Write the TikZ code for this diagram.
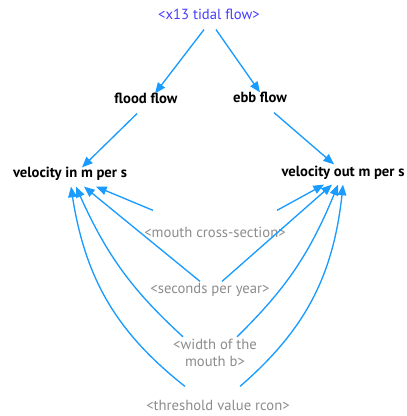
\documentclass[tikz,border=0pt]{standalone}
\usepackage{fontspec}
\setmainfont{PT Sans}
\usetikzlibrary{arrows.meta, bending}
\definecolor{linkblue}{RGB}{25,155,255}
\definecolor{shadowblue}{RGB}{70,60,255}
\definecolor{shadowgray}{RGB}{140,140,140}

\begin{document}
\begin{tikzpicture}[x=0.75pt, y=-0.75pt, font=\fontsize{11}{13}\selectfont,
    var/.style={inner sep=0pt, text height=8.5pt, text depth=2.5pt, font=\fontsize{11}{13}\selectfont\bfseries},
    shadow/.style={inner sep=0pt, text height=8.5pt, text depth=2.5pt, text=shadowgray},
    link/.style={draw=linkblue, line width=1pt, -{Triangle[length=8pt,width=6.5pt]}}]

    \useasboundingbox (0,0) rectangle (406,416);

    % the stocks of the model (variables)
    \node[shadow, text=shadowblue] (tidal) at (209,16) {<x13 tidal flow>};
    \node[var] (flood) at (146,100) {flood flow};
    \node[var] (ebb) at (260,99) {ebb flow};
    \node[var] (vin) at (70,174) {velocity in m per s};
    \node[var] (vout) at (343,172) {velocity out m per s};
    % shadow variables
    \node[shadow] (mouth) at (215,233) {<mouth cross-section>};
    \node[shadow] (secs) at (210,289) {<seconds per year>};
    \node[inner sep=0pt, text=shadowgray, align=center] (width) at (215,353) {<width of the\\mouth b>};
    \node[shadow] (rcon) at (218,406) {<threshold value rcon>};

    % links
    \draw[link] ([shift={(-5,6)}]tidal.south) -- ([shift={(9,1)}]flood.north);
    \draw[link] ([shift={(7,6)}]tidal.south) -- ([shift={(0,1)}]ebb.north);
    \draw[link] ([shift={(-9,6)}]flood.south) -- ([shift={(12,1)}]vin.north);
    \draw[link] ([shift={(14,6)}]ebb.south) -- ([shift={(-9,0)}]vout.north);

    \draw[link] ([shift={(9,-15)}]mouth.north west) -- ([shift={(26,5)}]vin.south);
    \draw[link] ([shift={(-10,0)}]secs.north) -- ([shift={(14,5)}]vin.south);
    \draw[link] ([shift={(-32,-2)}]width.north) to[bend left=12] ([shift={(6,5)}]vin.south);
    \draw[link] ([shift={(-33,-12)}]rcon.north) to[bend left=22] ([shift={(1,5)}]vin.south);

    \draw[link] ([shift={(-9,-15)}]mouth.north east) -- ([shift={(-19,5)}]vout.south);
    \draw[link] ([shift={(12,0)}]secs.north) -- ([shift={(-11,5)}]vout.south);
    \draw[link] ([shift={(22,-2)}]width.north) to[bend right=12] ([shift={(-5,5)}]vout.south);
    \draw[link] ([shift={(22,-12)}]rcon.north) to[bend right=22] ([shift={(0,5)}]vout.south);
\end{tikzpicture}
\end{document}
